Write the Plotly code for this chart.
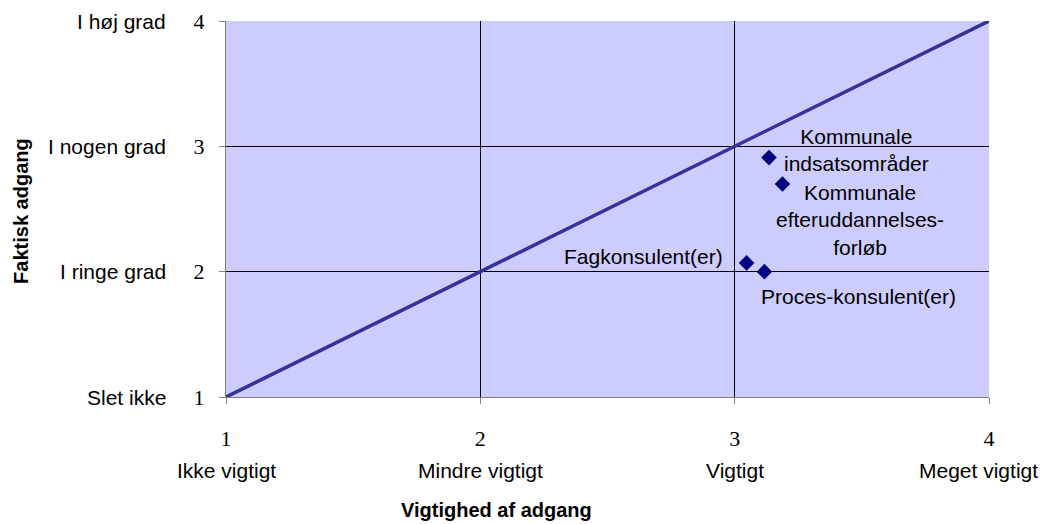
import plotly.graph_objects as go

# Scale positions and their verbal descriptions
x_ticks = [1, 2, 3, 4]
x_tick_text = ["Ikke vigtigt", "Mindre vigtigt", "Vigtigt", "Meget vigtigt"]
y_ticks = [1, 2, 3, 4]
y_tick_text = ["Slet ikke", "I ringe grad", "I nogen grad", "I høj grad"]

# Types of support: importance (x) vs. actual access (y)
point_names = [
    "Kommunale<br>indsatsområder",
    "Kommunale<br>efteruddannelses-<br>forløb",
    "Fagkonsulent(er)",
    "Proces-konsulent(er)",
]
importance = [3.135, 3.188, 3.047, 3.117]
access = [2.91, 2.70, 2.07, 2.00]

# Reference line where access equals importance
diag_x = [1, 4]
diag_y = [1, 4]

sans = "Liberation Sans, Arial, sans-serif"
serif = "Liberation Serif, Times New Roman, serif"
label_font = dict(family=sans, size=21, color="#000000")

fig = go.Figure()
fig.add_trace(go.Scatter(
    x=diag_x, y=diag_y, mode="lines",
    line=dict(color="#333399", width=3.5),
    hoverinfo="skip", showlegend=False,
))
fig.add_trace(go.Scatter(
    x=importance, y=access, mode="markers",
    marker=dict(symbol="diamond", size=12, color="#000080"),
    showlegend=False, cliponaxis=False,
))

# Point labels, placed around each marker
label_pos = [
    dict(xanchor="center", yanchor="middle", xshift=87, yshift=8, align="center"),
    dict(xanchor="center", yanchor="middle", xshift=78, yshift=-36, align="center"),
    dict(xanchor="right", yanchor="middle", xshift=-22, yshift=6, align="right"),
    dict(xanchor="center", yanchor="middle", xshift=94, yshift=-25, align="center"),
]
for name, xv, yv, pos in zip(point_names, importance, access, label_pos):
    fig.add_annotation(x=xv, y=yv, text=name, showarrow=False, font=label_font, **pos)

# Verbal scale descriptions below the numeric ticks (last one kept inside the page)
for i, (xv, txt) in enumerate(zip(x_ticks, x_tick_text)):
    fig.add_annotation(x=xv, y=0, xref="x", yref="paper", text=txt, showarrow=False,
                       xanchor="center", yanchor="middle", yshift=-73,
                       xshift=-11 if i == len(x_ticks) - 1 else 0, font=label_font)
for yv, txt in zip(y_ticks, y_tick_text):
    fig.add_annotation(x=0, y=yv, xref="paper", yref="y", text=txt, showarrow=False,
                       xanchor="right", yanchor="middle", xshift=-58, font=label_font)

# Axis titles
fig.add_annotation(x=0.355, y=0, xref="paper", yref="paper", text="<b>Vigtighed af adgang</b>",
                   showarrow=False, xanchor="center", yanchor="middle", yshift=-113,
                   font=dict(family=sans, size=20, color="#000000"))
fig.add_annotation(x=0, y=0.495, xref="paper", yref="paper", text="<b>Faktisk adgang</b>",
                   showarrow=False, xanchor="center", yanchor="middle", xshift=-205,
                   textangle=-90, font=dict(family=sans, size=20, color="#000000"))

fig.update_xaxes(
    range=[1, 4], tickmode="array", tickvals=x_ticks, ticktext=[str(v) for v in x_ticks],
    tickfont=dict(family=serif, size=22, color="#000000"),
    ticks="outside", ticklen=6, tickcolor="#808080", ticklabelstandoff=16,
    showline=True, linecolor="#808080", linewidth=1,
    showgrid=True, gridcolor="#000000", gridwidth=1, zeroline=False,
    automargin=False,
)
fig.update_yaxes(
    range=[1, 4], tickmode="array", tickvals=y_ticks, ticktext=[str(v) for v in y_ticks],
    tickfont=dict(family=serif, size=22, color="#000000"),
    ticks="outside", ticklen=6, tickcolor="#808080", ticklabelstandoff=10,
    showline=True, linecolor="#808080", linewidth=1,
    showgrid=True, gridcolor="#000000", gridwidth=1, zeroline=False,
    automargin=False,
)

fig.update_layout(
    width=1048, height=524,
    margin=dict(l=226, r=59, t=21, b=127),
    plot_bgcolor="#CCCCFF", paper_bgcolor="#FFFFFF",
    showlegend=False,
)

fig.write_html("out.html")
